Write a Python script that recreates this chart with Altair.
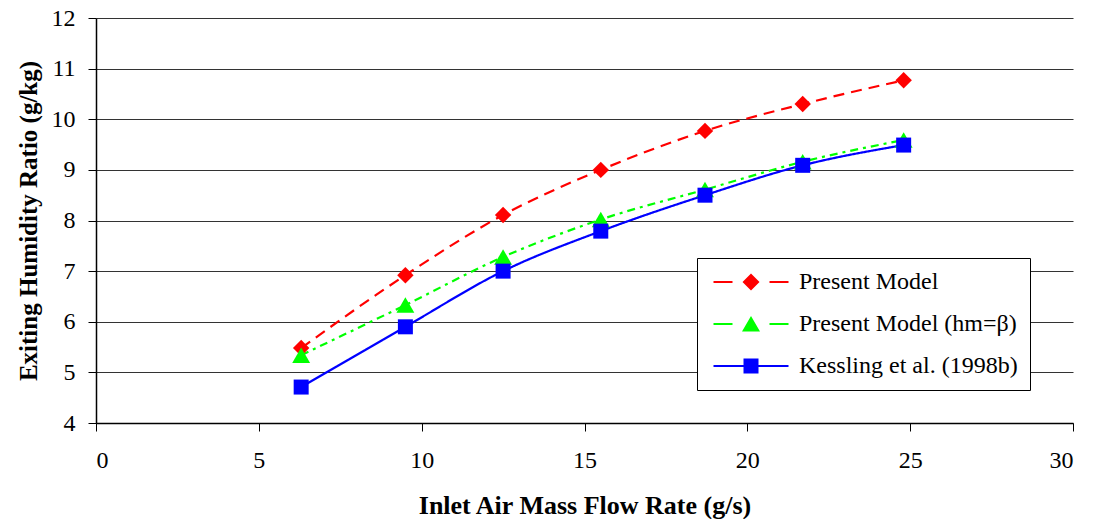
import altair as alt
import pandas as pd

flow = [6.3, 9.5, 12.5, 15.5, 18.7, 21.7, 24.8]
present = [5.48, 6.92, 8.11, 9.0, 9.77, 10.3, 10.77]
present_hm = [5.34, 6.33, 7.28, 8.02, 8.61, 9.16, 9.59]
kessling = [4.71, 5.9, 7.0, 7.79, 8.5, 9.09, 9.49]

names = ["Present Model", "Present Model (hm=β)", "Kessling et al. (1998b)"]
colors = ["#FF0000", "#00FF00", "#0000FF"]
markers = ["diamond", "triangle-up", "square"]
marker_sizes = [270, 320, 225]
dashes = [[11, 7], [8, 5, 3, 5], [1, 0]]
series_values = [present, present_hm, kessling]

rows = []
for n, vals in zip(names, series_values):
    for xv, yv in zip(flow, vals):
        rows.append({"flow": xv, "hum": yv, "series": n})
df = pd.DataFrame(rows)

FONT = "Liberation Serif"

xenc = alt.X("flow:Q", scale=alt.Scale(domain=[0, 30], nice=False),
             axis=alt.Axis(values=[0, 5, 10, 15, 20, 25, 30], grid=False,
                           title="Inlet Air Mass Flow Rate (g/s)",
                           labelPadding=17, titlePadding=20, titleFontSize=26))
yenc = alt.Y("hum:Q", scale=alt.Scale(domain=[4, 12], nice=False, zero=False),
             axis=alt.Axis(values=list(range(4, 13)), grid=True,
                           title="Exiting Humidity Ratio (g/kg)",
                           labelPadding=13, titlePadding=10, titleFontSize=25))

color_scale = alt.Scale(domain=names, range=colors)

# legend glyphs drawn as filled shapes: dashes as thin bars + marker (unit = 10 px)
legend_paths = [
    "M-3.75,-0.1L-1.85,-0.1L-1.85,0.1L-3.75,0.1Z"
    "M1.85,-0.1L3.75,-0.1L3.75,0.1L1.85,0.1Z"
    "M0,-0.85L0.85,0L0,0.85L-0.85,0Z",
    "M-3.75,-0.1L-1.85,-0.1L-1.85,0.1L-3.75,0.1Z"
    "M1.85,-0.1L3.75,-0.1L3.75,0.1L1.85,0.1Z"
    "M0,-0.8L0.9,0.75L-0.9,0.75Z",
    "M-3.75,-0.1L3.75,-0.1L3.75,0.1L-3.75,0.1Z"
    "M-0.75,-0.75L0.75,-0.75L0.75,0.75L-0.75,0.75Z",
]

legend = alt.Legend(
    title=None,
    orient="none",
    legendX=601,
    legendY=240,
    fillColor="white",
    strokeColor="black",
    padding=12,
    labelFont=FONT,
    labelFontSize=24,
    labelColor="black",
    labelOffset=36,
    symbolOffset=30,
    rowPadding=18,
    labelLimit=400,
    symbolSize=400,
    symbolOpacity=1,
)

layers = []
for n, c, d in zip(names, colors, dashes):
    layers.append(
        alt.Chart(df).transform_filter(alt.datum.series == n)
        .mark_line(strokeWidth=2.2, interpolate="monotone", color=c, strokeDash=d)
        .encode(x=xenc, y=yenc)
    )
for n, c, mk, sz in zip(names, colors, markers, marker_sizes):
    layers.append(
        alt.Chart(df).transform_filter(alt.datum.series == n)
        .mark_point(filled=True, opacity=1, shape=mk, size=sz, color=c)
        .encode(x=xenc, y=yenc)
    )

legend_layer = alt.Chart(df).mark_point(filled=True, opacity=0).encode(
    x=xenc,
    y=yenc,
    color=alt.Color("series:N", scale=color_scale, legend=legend),
    shape=alt.Shape("series:N", scale=alt.Scale(domain=names, range=legend_paths), legend=legend),
)
layers.append(legend_layer)

chart = alt.layer(*layers).properties(
    width=977,
    height=405,
    autosize=alt.AutoSizeParams(type="none"),
    padding={"left": 88, "top": 10, "right": 14, "bottom": 96},
).configure_view(stroke=None).configure_axis(
    labelFont=FONT,
    labelFontSize=24,
    labelColor="black",
    titleFont=FONT,
    titleFontWeight="bold",
    titleColor="black",
    domainColor="black",
    domainWidth=1.5,
    tickColor="black",
    tickSize=8,
    gridColor="#333333",
    gridWidth=1,
)

chart.save("out.html", embed_options={"renderer": "svg", "actions": False})
